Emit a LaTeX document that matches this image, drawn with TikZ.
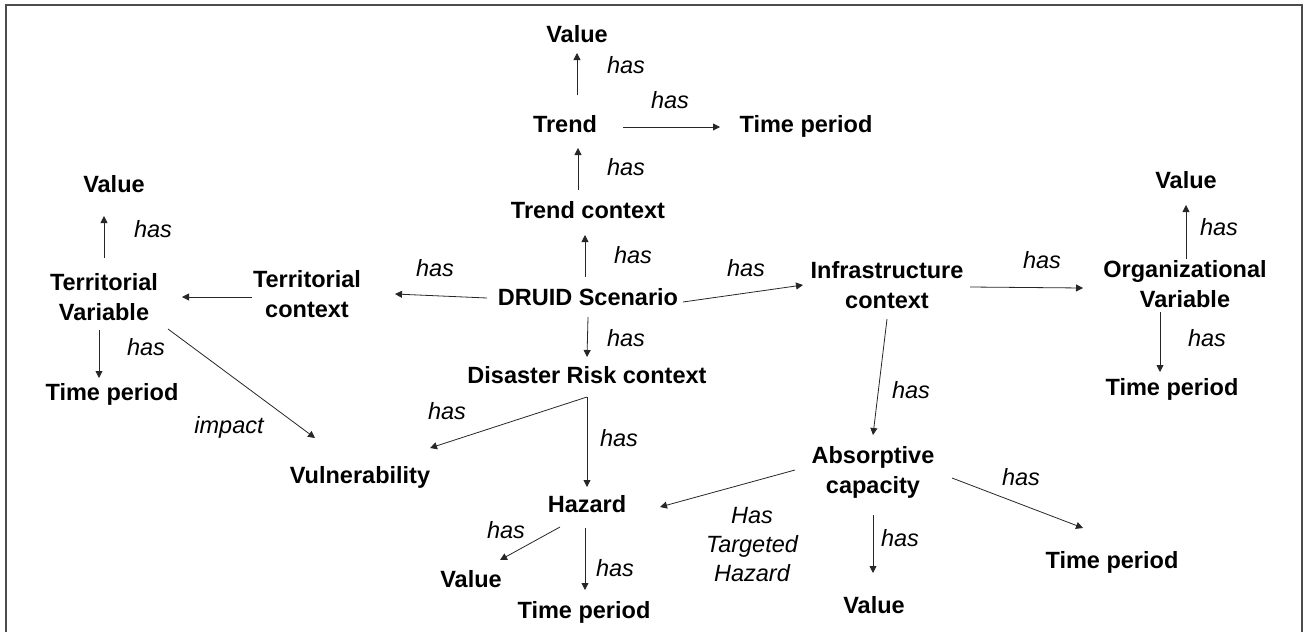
\documentclass[tikz,border=0pt]{standalone}
\usepackage{fontspec}
\setmainfont{Liberation Sans}
\usetikzlibrary{arrows.meta,calc}
\tikzset{
  concept/.style={font=\fontsize{23.5}{30}\selectfont\bfseries, inner sep=0pt, anchor=base, align=center},
  rel/.style={font=\fontsize{23.5}{29}\selectfont\itshape, inner sep=0pt, anchor=center, align=center},
  arr/.style={draw=black!85, line width=0.8pt, -{Triangle[length=7pt,width=7pt]}},
  frame/.style={draw=black!70, line width=2pt}
}
\begin{document}
\begin{tikzpicture}[x=1pt,y=-1pt]
\useasboundingbox (0,0) rectangle (1306,632);
\draw[frame] (5.7,632) -- (5.7,5) -- (1302,5) -- (1302,632);

% concepts (base = baseline of the last line)
\node[concept] (vT)    at (577,42)  {Value};
\node[concept] (trend) at (565,132) {Trend};
\node[concept] (tpT)   at (806,132) {Time period};
\node[concept] (tc)    at (588,218) {Trend context};
\node[concept] (druid) at (588,305) {DRUID Scenario};
\node[concept] (terrc) at (307,317) {Territorial\\context};
\node[concept] (tv)    at (104,320) {Territorial\\Variable};
\node[concept] (vL)    at (114,192) {Value};
\node[concept] (tpL)   at (112,400) {Time period};
\node[concept] (vul)   at (360,483) {Vulnerability};
\node[concept] (drc)   at (587,383) {Disaster Risk context};
\node[concept] (haz)   at (587,512) {Hazard};
\node[concept] (vH)    at (471,587) {Value};
\node[concept] (tpB)   at (584,618) {Time period};
\node[concept] (infra) at (887,308) {Infrastructure\\context};
\node[concept] (ov)    at (1185,307) {Organizational\\Variable};
\node[concept] (vR)    at (1186,188) {Value};
\node[concept] (tpR)   at (1172,395) {Time period};
\node[concept] (abs)   at (873,493) {Absorptive\\capacity};
\node[concept] (vA)    at (874,613) {Value};
\node[concept] (tpA)   at (1112,568) {Time period};

% connectors
\draw[arr] ($(trend.base)+(12,-37)$) -- ($(vT.base)+(0,11)$);
\draw[arr] ($(trend.base)+(58,-5)$) -- ($(tpT.base)+(-86,-5)$);
\draw[arr] ($(tc.base)+(-10,-28)$) -- ($(trend.base)+(13,16)$);
\draw[arr] ($(druid.base)+(-3,-28)$) -- ($(tc.base)+(-3,17)$);
\draw[arr] ($(druid.base)+(95,-3)$) -- ($(infra.base)+(-84,-23)$);
\draw[arr] ($(druid.base)+(-101,-7)$) -- ($(terrc.base)+(88,-23)$);
\draw[arr] ($(terrc.base)+(-55,-20)$) -- ($(tv.base)+(78,-23)$);
\draw[arr] ($(tv.base)+(0,-62)$) -- ($(vL.base)+(-10,24)$);
\draw[arr] ($(tv.base)+(-5,10)$) -- ($(tpL.base)+(-13,-22)$);
\draw[arr] ($(tv.base)+(64,9)$) -- ($(vul.base)+(-45,-45)$);
\draw[arr] ($(druid.base)+(0,12)$) -- ($(drc.base)+(0,-26)$);
\draw[arr] ($(drc.base)+(0,14)$) -- ($(haz.base)+(0,-25)$);
\draw[arr] ($(drc.base)+(0,14)$) -- ($(vul.base)+(70,-35)$);
\draw[arr] ($(haz.base)+(-27,15)$) -- ($(vH.base)+(29,-27)$);
\draw[arr] ($(haz.base)+(-2,16)$) -- ($(tpB.base)+(1,-28)$);
\draw[arr] ($(infra.base)+(0,11)$) -- ($(abs.base)+(0,-58)$);
\draw[arr] ($(infra.base)+(83,-21)$) -- ($(ov.base)+(-102,-19)$);
\draw[arr] ($(ov.base)+(1,-48)$) -- ($(vR.base)+(0,17)$);
\draw[arr] ($(ov.base)+(-25,5)$) -- ($(tpR.base)+(-12,-23)$);
\draw[arr] ($(abs.base)+(-78,-23)$) -- ($(haz.base)+(73,-5)$);
\draw[arr] ($(abs.base)+(0,22)$) -- ($(vA.base)+(-1,-40)$);
\draw[arr] ($(abs.base)+(79,-15)$) -- ($(tpA.base)+(-29,-40)$);

% relation labels
\node[rel] (l1)  at (626,65)  {has};
\node[rel] (l2)  at (670,100) {has};
\node[rel] (l3)  at (626,167) {has};
\node[rel] (l4)  at (633,255) {has};
\node[rel] (l5)  at (746,268) {has};
\node[rel] (l6)  at (435,268) {has};
\node[rel] (l8)  at (153,229) {has};
\node[rel] (l9)  at (146,347) {has};
\node[rel] (l10) at (229,427) {impact};
\node[rel] (l11) at (626,338) {has};
\node[rel] (l12) at (619,438) {has};
\node[rel] (l13) at (447,411) {has};
\node[rel] (l14) at (506,530) {has};
\node[rel] (l15) at (615,568) {has};
\node[rel] (l16) at (911,390) {has};
\node[rel] (l17) at (1042,260) {has};
\node[rel] (l18) at (1219,227) {has};
\node[rel] (l19) at (1207,338) {has};
\node[rel] (l20) at (752,545) {Has\\Targeted\\Hazard};
\node[rel] (l21) at (900,538) {has};
\node[rel] (l22) at (1021,477) {has};
\end{tikzpicture}
\end{document}
